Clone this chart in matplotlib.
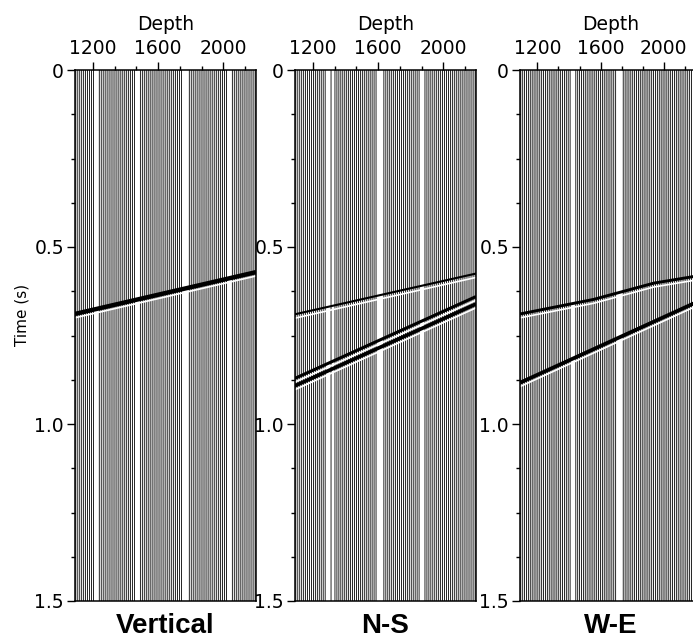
import numpy as np
import matplotlib
matplotlib.use("Agg")
import matplotlib.pyplot as plt
from matplotlib.ticker import FixedLocator

# ---- data -------------------------------------------------------------
components = ["Vertical", "N-S", "W-E"]

depth_range = (1090, 2235)           # receiver depth span (m)
trace_spacing = 12.0                 # receiver interval (m)
depth_ticks = [1200, 1600, 2000]
depth_minor = [1066.7, 1333.3, 1466.7, 1733.3, 1866.7, 2133.3]
time_ticks = [0, 0.5, 1.0, 1.5]
time_labels = ["0", "0.5", "1.0", "1.5"]
time_minor = [0.125, 0.25, 0.375, 0.625, 0.75, 0.875, 1.125, 1.25, 1.375]

# dead / missing receiver intervals for each component (m)
gaps_vertical = [(1212, 1236), (1464, 1486), (1748, 1780), (2024, 2050)]
gaps_ns = [(1284, 1300), (1320, 1330), (1588, 1626), (1854, 1886)]
gaps_we = [(1412, 1438), (1492, 1502), (1700, 1736)]

# picked arrivals (depth in m, time in s)
p_vertical_depth = [1090, 2200]
p_vertical_time = [0.689, 0.571]

p_ns_depth = [1090, 2200]
p_ns_time = [0.690, 0.575]
s_ns_depth = [1090, 2200]
s_ns_time = [0.871, 0.640]

p_we_depth = [1092, 1556, 1937, 2235]
p_we_time = [0.689, 0.648, 0.602, 0.580]
s_we_depth = [1092, 2235]
s_we_time = [0.883, 0.650]

panels = [
    dict(gaps=gaps_vertical,
         events=[(p_vertical_depth, p_vertical_time, 3.2, None)]),
    dict(gaps=gaps_ns,
         events=[(p_ns_depth, p_ns_time, 1.5, None),
                 (s_ns_depth, s_ns_time, 2.2, 0.021)]),
    dict(gaps=gaps_we,
         events=[(p_we_depth, p_we_time, 2.1, None),
                 (s_we_depth, s_we_time, 2.7, None)]),
]

# ---- figure -----------------------------------------------------------
W, H = 693, 642
fig = plt.figure(figsize=(W / 100, H / 100), dpi=100)

tick_font = dict(family="DejaVu Sans", size=13.5)
lefts = [75, 295, 520]
ax_w, ax_top, ax_bot = 181, 70, 601

for left, comp, spec in zip(lefts, components, panels):
    ax = fig.add_axes([left / W, 1 - ax_bot / H, ax_w / W, (ax_bot - ax_top) / H])

    depths = np.arange(depth_range[0] + 5, depth_range[1], trace_spacing)
    keep = np.ones_like(depths, dtype=bool)
    for a, b in spec["gaps"]:
        keep &= ~((depths >= a) & (depths <= b))
    ax.vlines(depths[keep], 0, 1.5, color="black", lw=0.6, snap=False)

    for d, t, lw, dbl in spec["events"]:
        d = np.asarray(d, float)
        t = np.asarray(t, float)
        last = t + (dbl if dbl else 0)
        ax.plot(d, last + 0.011, color="white", lw=1.2, solid_capstyle="butt")
        ax.plot(d, t, color="black", lw=lw, solid_capstyle="butt")
        if dbl:
            ax.plot(d, t + dbl * 0.5, color="white", lw=1.2, solid_capstyle="butt")
            ax.plot(d, t + dbl, color="black", lw=lw * 1.2, solid_capstyle="butt")

    ax.set_xlim(depth_range[0], depth_range[0] + 1110 if left < 500 else depth_range[1])
    ax.set_ylim(1.5, 0)

    ax.xaxis.tick_top()
    ax.xaxis.set_label_position("top")
    ax.xaxis.set_major_locator(FixedLocator(depth_ticks))
    ax.xaxis.set_minor_locator(FixedLocator(depth_minor))
    ax.set_xticklabels([str(v) for v in depth_ticks], fontdict=tick_font)
    ax.set_xlabel("Depth", fontdict=tick_font, labelpad=6)

    ax.yaxis.set_major_locator(FixedLocator(time_ticks))
    ax.yaxis.set_minor_locator(FixedLocator(time_minor))
    ax.set_yticklabels(time_labels, fontdict=tick_font)

    ax.tick_params(axis="both", which="major", direction="out", length=6,
                   width=1, pad=2, colors="black")
    ax.tick_params(axis="both", which="minor", direction="out", length=3, width=1)
    ax.tick_params(axis="x", pad=3)
    for s in ax.spines.values():
        s.set_linewidth(1.1)

    ax.text(0.5, -0.048, comp, transform=ax.transAxes, ha="center", va="center",
            family="Liberation Sans", weight="bold", size=20)

fig.text(22 / W, 1 - 315 / H, "Time (s)", rotation=90, ha="center", va="center",
         family="DejaVu Sans", size=11)

fig.savefig("out.png", dpi=100, facecolor="white")
